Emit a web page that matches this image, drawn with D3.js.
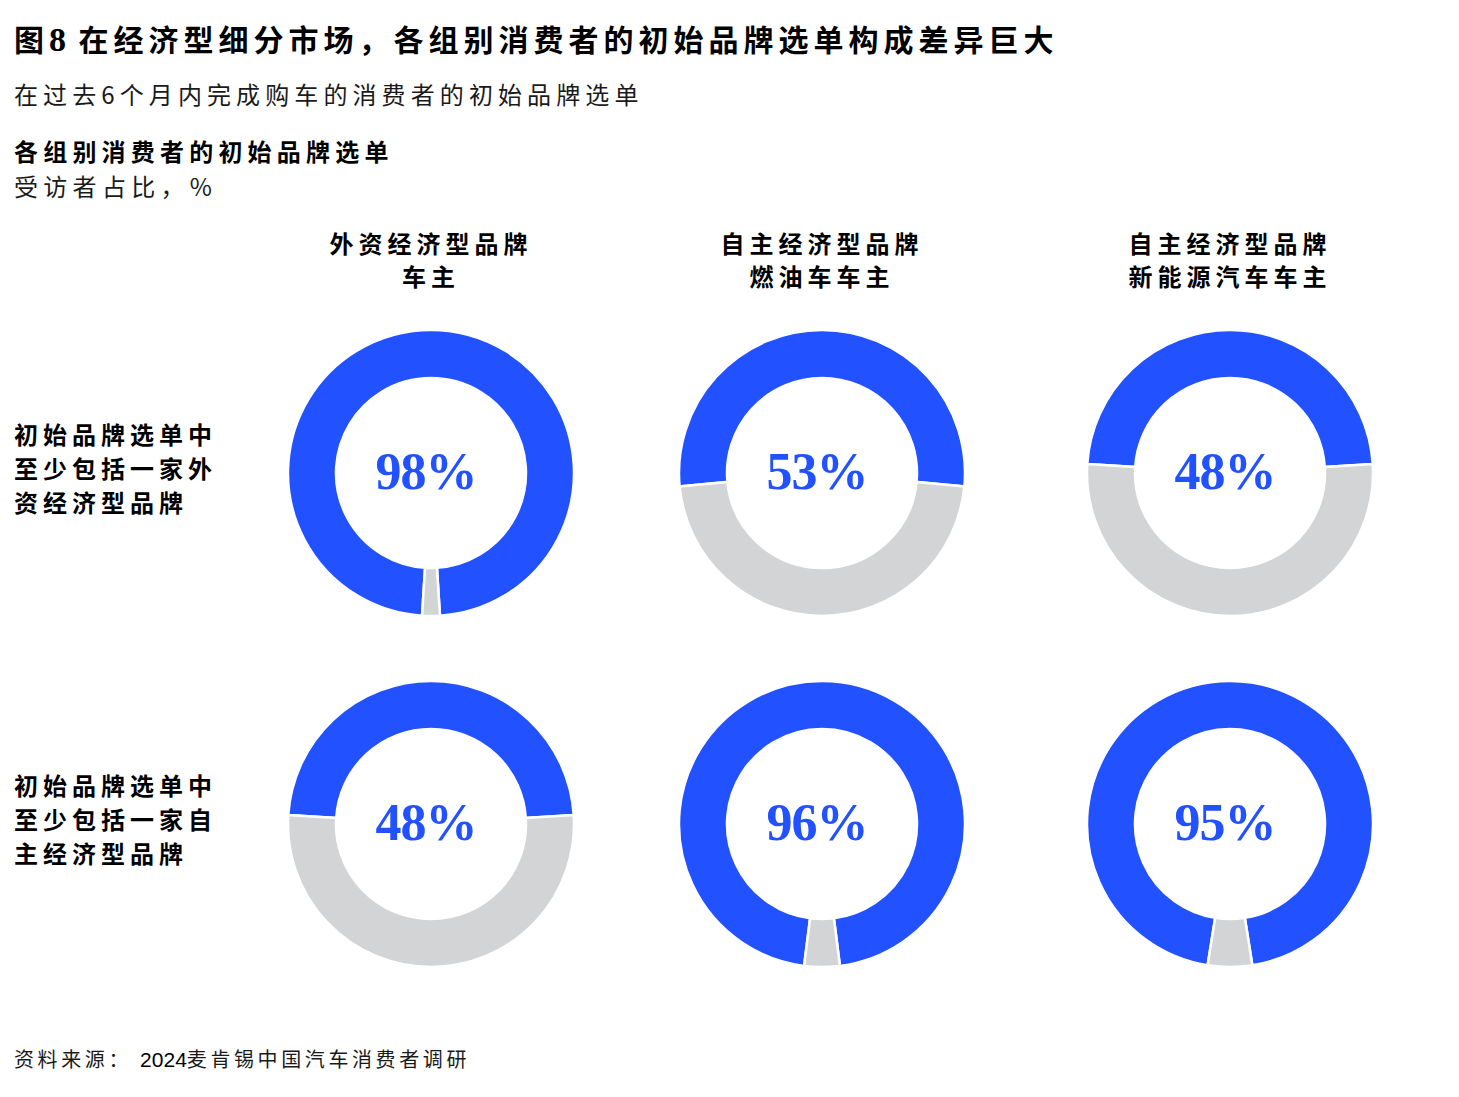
<!DOCTYPE html>
<html>
<head>
<meta charset="utf-8">
<script src="https://cdn.jsdelivr.net/npm/d3@7"></script>
<style>
  body { margin: 0; background: #fff; }
  svg { display: block; }
</style>
</head>
<body>
<svg id="chart"></svg>
<script>
// column headers (two lines each)
const columnLabels = [
  ["外资经济型品牌", "车主"],
  ["自主经济型品牌", "燃油车车主"],
  ["自主经济型品牌", "新能源汽车车主"]
];
// row labels (three lines each)
const rowLabels = [
  ["初始品牌选单中", "至少包括一家外", "资经济型品牌"],
  ["初始品牌选单中", "至少包括一家自", "主经济型品牌"]
];
// share of respondents, % (row by column)
const values = [
  [98, 53, 48],
  [48, 96, 95]
];

const W = 1459, H = 1097;
const blue = "#2251FF", grey = "#D3D4D6";
const cjk = "'Noto Sans CJK SC', 'Noto Sans', sans-serif";

const svg = d3.select("#chart").attr("width", W).attr("height", H);

// layout of the grid
const x = d3.scaleOrdinal().domain(d3.range(columnLabels.length)).range([431, 822, 1230]);
const y = d3.scaleOrdinal().domain(d3.range(rowLabels.length)).range([473, 824]);
const outerR = 143, innerR = 95;

// titles
svg.append("text")
  .attr("x", 14).attr("y", 51)
  .style("font-family", cjk).style("font-size", "30px").style("font-weight", "bold")
  .style("letter-spacing", "5px").style("fill", "#000")
  .call(t => {
    t.append("tspan").text("图");
    t.append("tspan").style("font-family", "'Liberation Serif', serif").style("font-size", "34px").style("letter-spacing", "2px").text("8 ");
    t.append("tspan").text("在经济型细分市场，各组别消费者的初始品牌选单构成差异巨大");
  });

svg.append("text")
  .attr("x", 14).attr("y", 104)
  .style("font-family", cjk).style("font-size", "24px")
  .style("letter-spacing", "5.1px").style("fill", "#1a1a1a")
  .text("在过去6个月内完成购车的消费者的初始品牌选单");

svg.append("text")
  .attr("x", 14).attr("y", 161)
  .style("font-family", cjk).style("font-size", "24px").style("font-weight", "bold")
  .style("letter-spacing", "5.2px").style("fill", "#000")
  .text("各组别消费者的初始品牌选单");

svg.append("text")
  .attr("x", 14).attr("y", 196)
  .style("font-family", cjk).style("font-size", "24px")
  .style("letter-spacing", "5.3px").style("fill", "#1a1a1a")
  .text("受访者占比，%");

// column headers
svg.append("g").selectAll("text")
  .data(columnLabels)
  .join("text")
  .attr("text-anchor", "middle")
  .style("font-family", cjk).style("font-size", "24px").style("font-weight", "bold")
  .style("letter-spacing", "5px").style("fill", "#000")
  .selectAll("tspan")
  .data((d, i) => d.map(line => ({ line, i })))
  .join("tspan")
  .attr("x", d => x(d.i))
  .attr("y", (d, j) => 253 + j * 33)
  .text(d => d.line);

// row labels
svg.append("g").selectAll("text")
  .data(rowLabels)
  .join("text")
  .style("font-family", cjk).style("font-size", "24px").style("font-weight", "bold")
  .style("letter-spacing", "5px").style("fill", "#000")
  .selectAll("tspan")
  .data((d, i) => d.map(line => ({ line, i })))
  .join("tspan")
  .attr("x", 14)
  .attr("y", (d, j) => y(d.i) - 29 + j * 34)
  .text(d => d.line);

// donuts
const arc = d3.arc().innerRadius(innerR).outerRadius(outerR);

const cells = [];
values.forEach((row, r) => row.forEach((v, c) => cells.push({ r, c, v })));

const donut = svg.append("g").selectAll("g")
  .data(cells)
  .join("g")
  .attr("transform", d => `translate(${x(d.c)},${y(d.r)})`);

donut.selectAll("path")
  .data(d => {
    const start = -Math.PI * d.v / 100; // blue part centred on top
    return d3.pie().sort(null).startAngle(start).endAngle(start + 2 * Math.PI)([d.v, 100 - d.v]);
  })
  .join("path")
  .attr("d", arc)
  .attr("fill", (d, i) => i === 0 ? blue : grey)
  .attr("stroke", "#fff")
  .attr("stroke-width", 2.5);

donut.append("text")
  .attr("x", -5)
  .attr("y", 16)
  .attr("text-anchor", "middle")
  .style("font-family", "'Liberation Serif', 'DejaVu Serif', serif")
  .style("font-size", "52px").style("font-weight", "bold")
  .style("letter-spacing", "-1px")
  .style("fill", blue)
  .text(d => d.v + "%");

// source
svg.append("text")
  .attr("x", 14).attr("y", 1067)
  .style("font-family", cjk).style("font-size", "20px")
  .style("letter-spacing", "3.6px").style("fill", "#1a1a1a")
  .call(t => {
    t.append("tspan").text("资料来源： ");
    t.append("tspan").style("font-family", "'Liberation Sans', Arial, sans-serif").style("font-size", "21px").style("letter-spacing", "0px").style("fill", "#000").text("2024");
    t.append("tspan").text("麦肯锡中国汽车消费者调研");
  });
</script>
</body>
</html>
